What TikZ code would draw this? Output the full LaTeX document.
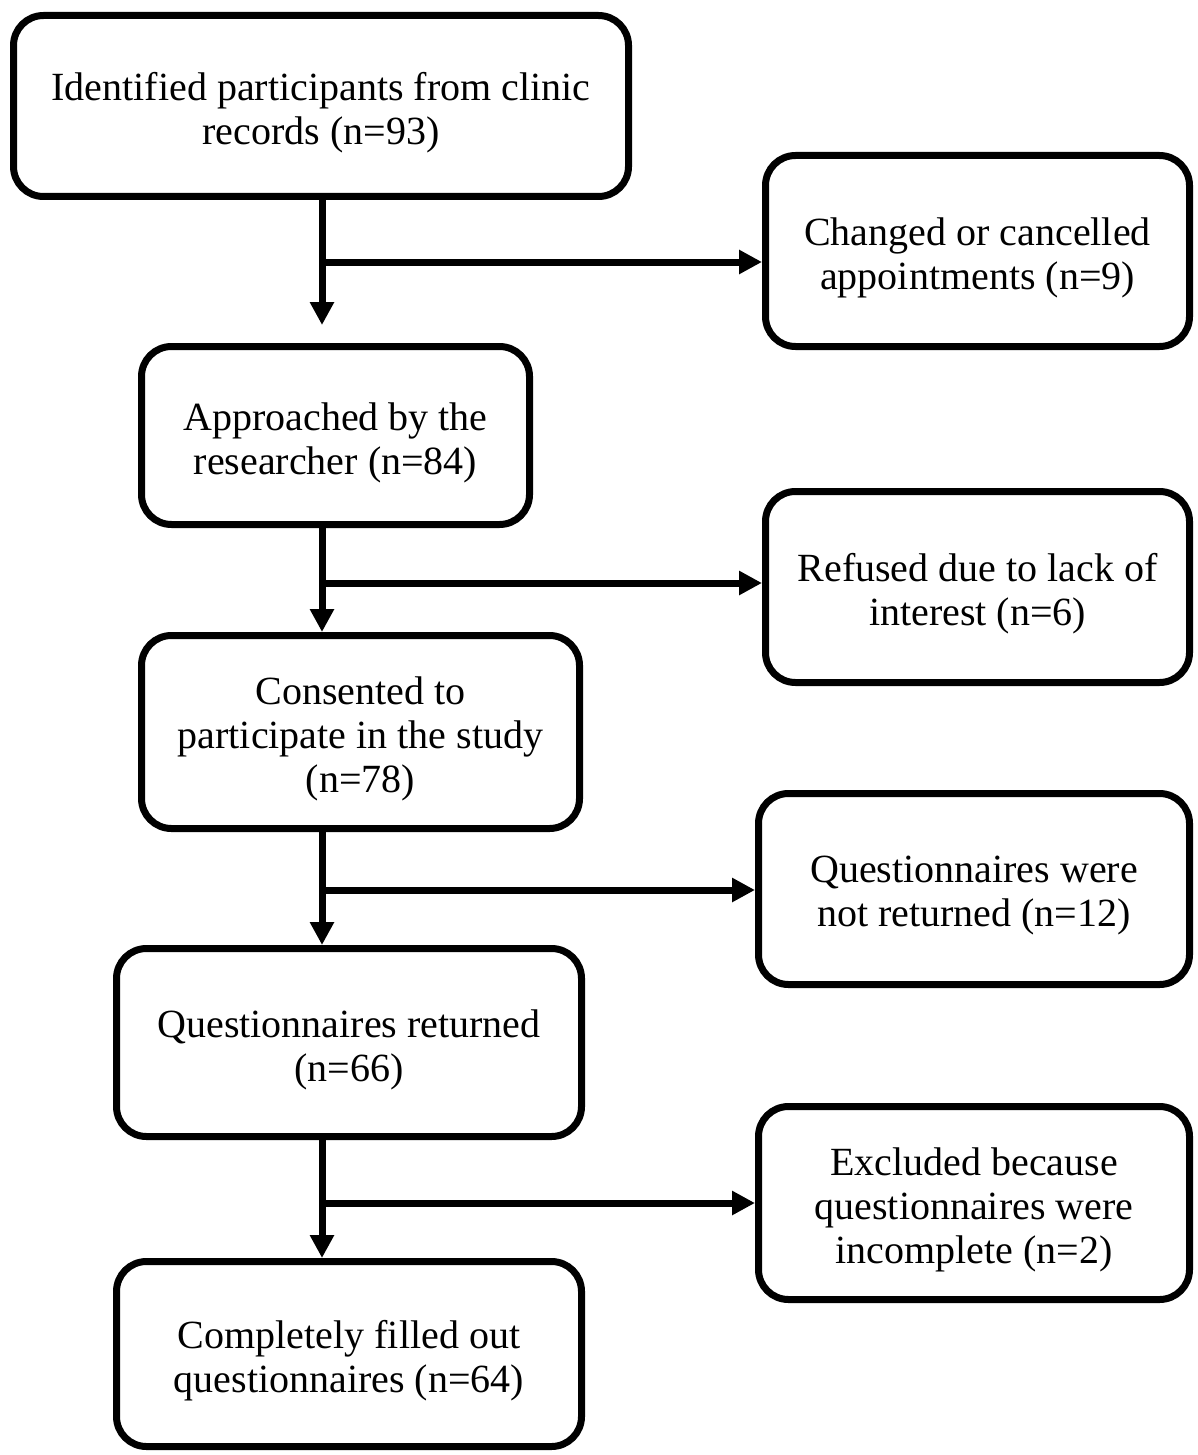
\documentclass[tikz,border=0pt]{standalone}
\usepackage{fontspec}
\setmainfont{Liberation Serif}
\usetikzlibrary{arrows.meta}
\begin{document}
\begin{tikzpicture}[x=1pt,y=-1pt,
  box/.style={draw=black, line width=7pt, rounded corners=30pt, fill=white, inner sep=0pt},
  txt/.style={align=center, inner sep=0pt, yshift=-7pt, font=\fontsize{40}{44}\selectfont},
  arr/.style={line width=7pt, -{Triangle[length=23pt,width=23pt]}}]
\useasboundingbox (0,0) rectangle (1197,1455);
\node[box, minimum width=615pt, minimum height=181pt, label={[txt]center:{Identified participants from clinic\\records (n=93)}}] (b1) at (321,106) {};
\node[box, minimum width=424pt, minimum height=191pt, label={[txt]center:{Changed or cancelled\\appointments (n=9)}}] (b2) at (977.5,251) {};
\node[box, minimum width=388pt, minimum height=178pt, label={[txt]center:{Approached by the\\researcher (n=84)}}] (b3) at (335.5,435.5) {};
\node[box, minimum width=424pt, minimum height=191pt, label={[txt]center:{Refused due to lack of\\interest (n=6)}}] (b4) at (977.5,587) {};
\node[box, minimum width=438pt, minimum height=193pt, label={[txt]center:{Consented to\\participate in the study\\(n=78)}}] (b5) at (360.5,732) {};
\node[box, minimum width=431pt, minimum height=191pt, label={[txt]center:{Questionnaires were\\not returned (n=12)}}] (b6) at (974,889) {};
\node[box, minimum width=465pt, minimum height=188pt, label={[txt]center:{Questionnaires returned\\(n=66)}}] (b7) at (349,1042.5) {};
\node[box, minimum width=431pt, minimum height=193pt, label={[txt]center:{Excluded because\\questionnaires were\\incomplete (n=2)}}] (b8) at (974,1203) {};
\node[box, minimum width=465pt, minimum height=185pt, label={[txt]center:{Completely filled out\\questionnaires (n=64)}}] (b9) at (349,1354) {};
\coordinate (c1) at (322,262);
\coordinate (c2) at (322,583);
\coordinate (c3) at (322,890);
\coordinate (c4) at (322,1203);
\draw[arr, shorten >=18pt] (b1.south -| c1) -- (b3.north -| c1);
\draw[arr] (c1) -- (b2.west |- c1);
\draw[arr] (b3.south -| c2) -- (b5.north -| c2);
\draw[arr] (c2) -- (b4.west |- c2);
\draw[arr] (b5.south -| c3) -- (b7.north -| c3);
\draw[arr] (c3) -- (b6.west |- c3);
\draw[arr] (b7.south -| c4) -- (b9.north -| c4);
\draw[arr] (c4) -- (b8.west |- c4);
\end{tikzpicture}
\end{document}
